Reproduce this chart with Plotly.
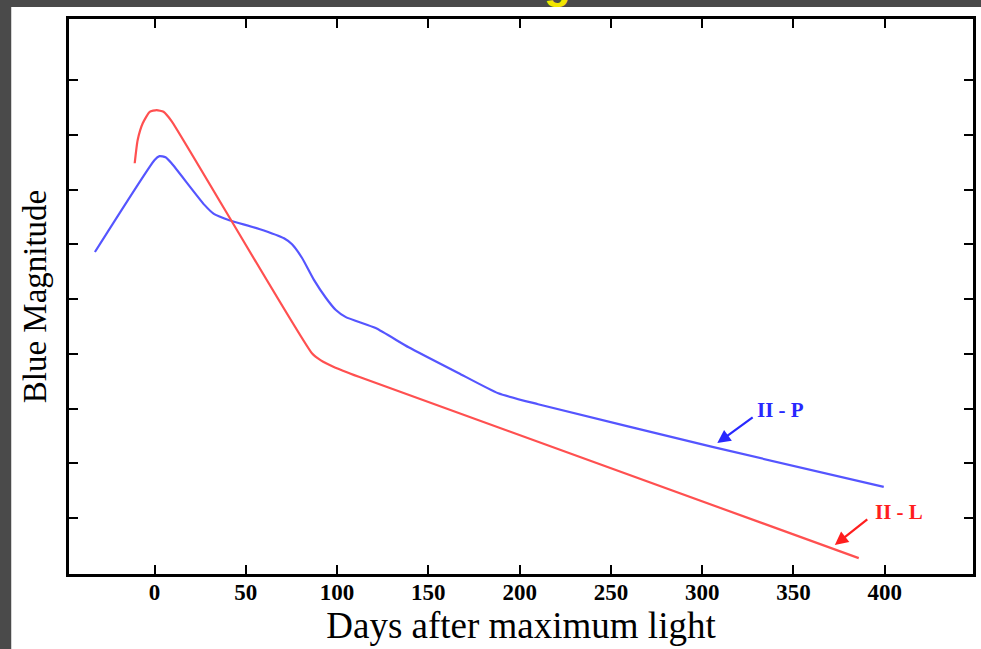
import plotly.graph_objects as go

# H-P (plateau) light curve: days after maximum, blue magnitude (arbitrary units, tick = 1 mag step)
hp_days = [-32.7, 0.0, 2.7, 6.0, 9.3, 27.3, 32.7, 40.9, 57.3, 70.9, 75.3, 80.8, 87.3, 93.9,
           99.3, 104.8, 121.1, 139.2, 166.4, 188.3, 210.1, 305.6, 399.5]
hp_mag = [4.14, 2.46, 2.39, 2.41, 2.52, 3.28, 3.45, 3.56, 3.72, 3.89, 4.00, 4.25, 4.65, 4.98,
          5.20, 5.33, 5.53, 5.88, 6.35, 6.72, 6.92, 7.70, 8.43]

# H-L (linear) light curve
hl_days = [-10.9, -9.3, -6.5, -2.7, 1.1, 4.9, 9.3, 86.2, 91.1, 98.2, 111.9, 385.8]
hl_mag = [2.52, 2.10, 1.79, 1.58, 1.55, 1.58, 1.75, 5.99, 6.12, 6.24, 6.42, 9.73]

x_ticks = [0, 50, 100, 150, 200, 250, 300, 350, 400]
y_ticks = [1, 2, 3, 4, 5, 6, 7, 8, 9]

serif = "Liberation Serif"

fig = go.Figure()
fig.add_trace(go.Scatter(x=hp_days, y=hp_mag, mode="lines",
                         line=dict(color="rgb(85,85,255)", width=2.2, shape="spline", smoothing=0.5),
                         showlegend=False, hoverinfo="skip"))
fig.add_trace(go.Scatter(x=hl_days, y=hl_mag, mode="lines",
                         line=dict(color="rgb(255,80,80)", width=2.2, shape="spline", smoothing=0.5),
                         showlegend=False, hoverinfo="skip"))

# white page area over the dark border
fig.add_shape(type="rect", xref="paper", yref="paper", x0=-0.0639, x1=1.01, y0=-0.14, y1=1.0216,
              fillcolor="white", line=dict(width=0), layer="below")

# arrows and labels
fig.add_annotation(x=308.3, y=7.63, ax=328.5, ay=7.14, axref="x", ayref="y", xref="x", yref="y",
                   text="", showarrow=True, arrowhead=2, arrowsize=1.2, arrowwidth=2.2,
                   arrowcolor="rgb(40,40,255)")
fig.add_annotation(x=343.0, y=7.03, xref="x", yref="y", text="<b>II - P</b>", showarrow=False,
                   font=dict(family=serif, size=21, color="rgb(40,40,255)"))
fig.add_annotation(x=372.7, y=9.49, ax=391.3, ay=9.0, axref="x", ayref="y", xref="x", yref="y",
                   text="", showarrow=True, arrowhead=2, arrowsize=1.2, arrowwidth=2.2,
                   arrowcolor="rgb(255,30,30)")
fig.add_annotation(x=408.0, y=8.89, xref="x", yref="y", text="<b>II - L</b>", showarrow=False,
                   font=dict(family=serif, size=21, color="rgb(255,30,30)"))

# yellow title fragment cut off at the top
fig.add_annotation(x=(560 - 69) / 908, y=1.018, xref="paper", yref="paper", yanchor="bottom",
                   text="<b>g</b>", showarrow=False,
                   font=dict(family="Liberation Sans", size=44, color="#f2e600"))

fig.update_layout(
    width=981, height=649,
    margin=dict(l=69, r=5, t=19, b=75),
    paper_bgcolor="#4a4a4a",
    plot_bgcolor="white",
    font=dict(family=serif, color="black"),
    xaxis=dict(range=[-46.9, 448.4], tickvals=x_ticks, ticktext=[f"<b>{v}</b>" for v in x_ticks],
               ticks="inside", ticklen=9, tickwidth=2, tickcolor="black",
               showline=True, linewidth=3, linecolor="black", mirror="ticks",
               showgrid=False, zeroline=False, ticklabelstandoff=-5,
               tickfont=dict(family=serif, size=23, color="black"),
               title=dict(text="Days after maximum light", font=dict(family=serif, size=37, color="black"),
                          standoff=4)),
    yaxis=dict(range=[10.02, -0.114], tickvals=y_ticks, showticklabels=False,
               ticks="inside", ticklen=9, tickwidth=2, tickcolor="black",
               showline=True, linewidth=3, linecolor="black", mirror="ticks",
               showgrid=False, zeroline=False,
               title=dict(text="Blue Magnitude", font=dict(family=serif, size=33, color="black"),
                          standoff=10)),
)

fig.write_html("out.html")
